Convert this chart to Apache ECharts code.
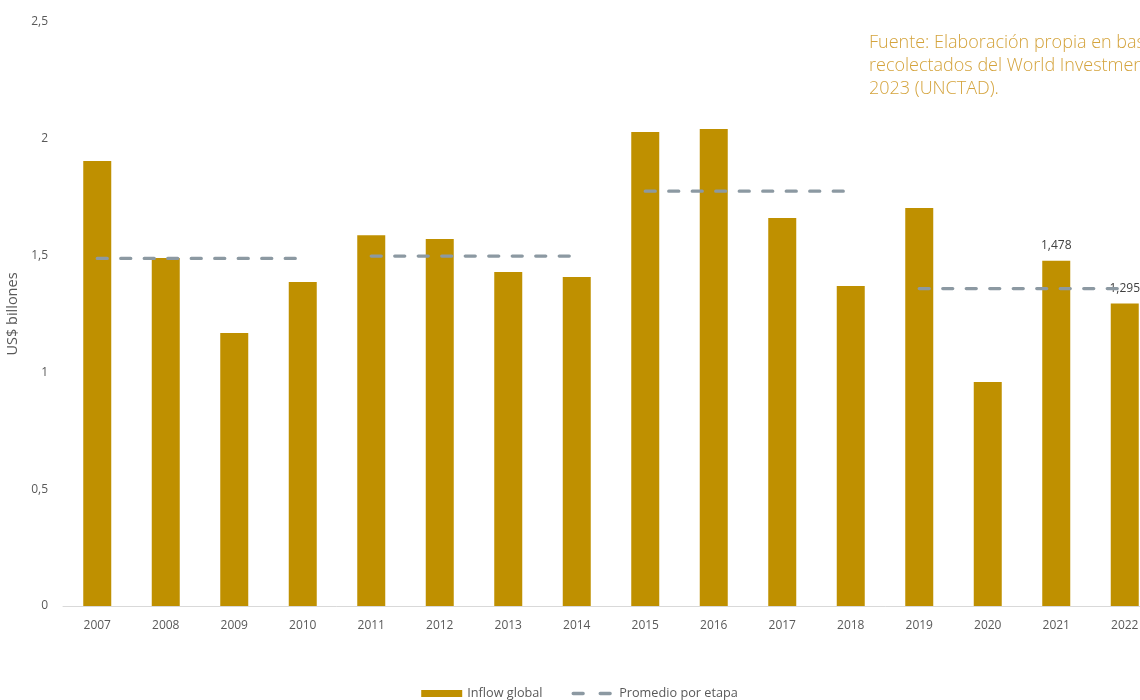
<!DOCTYPE html>
<html>
<head>
<meta charset="utf-8">
<script src="https://cdn.jsdelivr.net/npm/echarts@6/dist/echarts.min.js"></script>
<style>
  html, body { margin: 0; padding: 0; background: #ffffff; overflow: hidden; }
  /* el lienzo es algo más ancho que la ventana: el último año queda recortado */
  #chart { width: 1159px; height: 700px; }
</style>
</head>
<body>
<div id="chart"></div>
<script>
// Inflow global de IED por año (US$ billones)
const years = ['2007','2008','2009','2010','2011','2012','2013','2014',
               '2015','2016','2017','2018','2019','2020','2021','2022'];
const inflow = [1.905, 1.490, 1.169, 1.387, 1.587, 1.571, 1.430, 1.408,
                2.029, 2.042, 1.661, 1.370, 1.704, 0.959, 1.478, 1.295];
// Etapas: índice inicial y final (inclusive) y su promedio
const stageStart = [0, 4, 8, 12];
const stageEnd = [3, 7, 11, 15];
const stageAvg = [1.488, 1.498, 1.776, 1.359];
// Años cuyo valor se rotula sobre la barra
const labeledYears = ['2021', '2022'];
const yTicks = [0, 0.5, 1, 1.5, 2, 2.5];

const fmt = v => String(v).replace('.', ',');
const gold = '#BF9000';
const grey = '#8C99A2';
const textCol = '#595959';

const barData = inflow.map((v, i) => labeledYears.includes(years[i])
  ? { value: v, label: { show: true } } : v);

const dashStyle = { color: grey, width: 3.3, type: [10, 13.5], cap: 'round' };

const stageSeries = stageAvg.map((avg, s) => ({
  name: 'Promedio por etapa',
  type: 'line',
  symbol: 'none',
  silent: true,
  z: 3,
  lineStyle: dashStyle,
  itemStyle: { color: grey },
  data: years.map((y, i) => (i >= stageStart[s] && i <= stageEnd[s]) ? avg : null)
}));

const chart = echarts.init(document.getElementById('chart'), null, { renderer: 'canvas' });
chart.setOption({
  animation: false,
  backgroundColor: '#ffffff',
  textStyle: { fontFamily: 'Open Sans' },
  grid: {
    left: 63, top: 22, right: 0, bottom: 94,
    containLabel: false,
    outerBoundsMode: 'none'
  },
  legend: {
    bottom: -5,
    left: 'center',
    itemGap: 29,
    itemWidth: 41,
    itemHeight: 7,
    textStyle: { color: textCol, fontSize: 12.7, fontFamily: 'Open Sans' },
    data: [
      { name: 'Inflow global', icon: 'rect' },
      {
        name: 'Promedio por etapa',
        itemStyle: { opacity: 0 },
        lineStyle: { color: grey, width: 3.3, type: [10, 17], cap: 'round' }
      }
    ]
  },
  xAxis: {
    type: 'category',
    data: years,
    boundaryGap: true,
    axisLine: { show: true, lineStyle: { color: '#D9D9D9', width: 1 } },
    axisTick: { show: false },
    axisLabel: { color: textCol, fontSize: 12, margin: 14 },
    splitLine: { show: false }
  },
  yAxis: {
    type: 'value',
    min: 0,
    max: 2.5,
    interval: 0.5,
    name: 'US$ billones',
    nameLocation: 'middle',
    nameGap: 37,
    nameTextStyle: { color: textCol, fontSize: 14.5 },
    axisLine: { show: false },
    axisTick: { show: false },
    splitLine: { show: false },
    axisLabel: {
      color: textCol, fontSize: 12, margin: 15,
      formatter: v => yTicks.includes(v) ? fmt(v) : ''
    }
  },
  series: [
    {
      name: 'Inflow global',
      type: 'bar',
      barWidth: 28,
      z: 2,
      itemStyle: { color: gold },
      label: {
        show: false,
        position: 'top',
        distance: 9,
        color: '#404040',
        fontSize: 12,
        formatter: p => fmt(p.value)
      },
      data: barData
    },
    ...stageSeries
  ],
  graphic: [
    {
      type: 'text',
      left: 869,
      top: 31,
      style: {
        text: 'Fuente: Elaboración propia en base a datos\nrecolectados del World Investment Report\n2023 (UNCTAD).',
        fill: '#D4A33C',
        font: '300 18px "Open Sans"',
        lineHeight: 23
      }
    }
  ]
});
</script>
</body>
</html>
